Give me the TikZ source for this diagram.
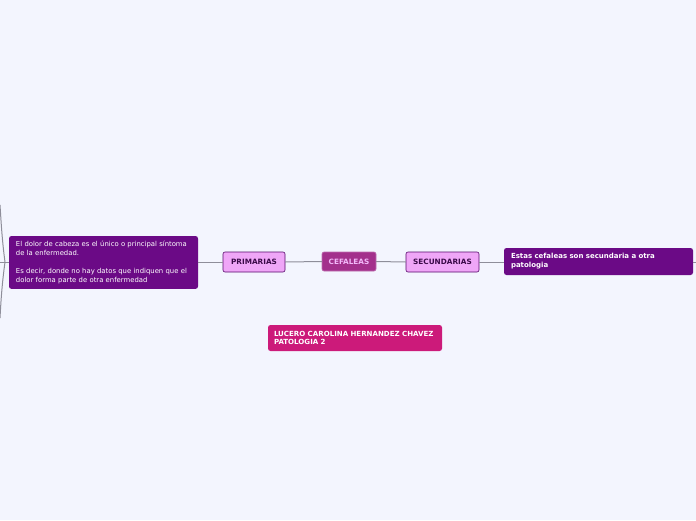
\documentclass[tikz,border=0pt]{standalone}
\usepackage{fontspec}
\setmainfont{DejaVu Sans}
\definecolor{bgc}{HTML}{F3F5FE}
\definecolor{darkp}{HTML}{6B0A86}
\definecolor{lightp}{HTML}{EFA6F7}
\definecolor{midp}{HTML}{A3308C}
\definecolor{pinkc}{HTML}{CC1A7A}
\definecolor{linec}{HTML}{8E8E9A}
\definecolor{txtp}{HTML}{3A0A48}
\tikzset{
  every node/.style={inner sep=0pt, outer sep=0pt},
  conn/.style={draw=linec, line width=1pt},
  subbox/.style={draw=darkp!80!black, line width=0.6pt, fill=lightp, rounded corners=2pt,
    text=txtp, font=\fontsize{7.3}{8}\selectfont\bfseries, anchor=center},
  mainbox/.style={draw=midp!70!white, line width=0.6pt, fill=midp, rounded corners=2pt,
    text=lightp!80!white, font=\fontsize{7.3}{8}\selectfont\bfseries, anchor=center},
  darkbox/.style={fill=darkp, rounded corners=2.5pt, text=white, align=left,
    anchor=north west, inner xsep=7pt, inner ysep=5pt},
}
\begin{document}
\begin{tikzpicture}[x=1pt,y=-1pt]
\fill[bgc] (0,0) rectangle (696,520);
\useasboundingbox (0,0) rectangle (696,520);
% nodes
\node[mainbox, minimum width=54pt, minimum height=19pt] (cef) at (349,261.5) {CEFALEAS};
\node[subbox, minimum width=62pt, minimum height=20pt] (pri) at (254,262) {PRIMARIAS};
\node[subbox, minimum width=73pt, minimum height=20pt] (sec) at (442.5,262) {SECUNDARIAS};
\node[darkbox, minimum width=189pt, minimum height=51pt, text width=175pt,
  font=\fontsize{6.85}{9}\selectfont] (left) at (9,236)
  {El dolor de cabeza es el único o principal síntoma\\de la enfermedad.\\[9pt]Es decir, donde no hay datos que indiquen que el\\dolor forma parte de otra enfermedad};
\node[darkbox, minimum width=189pt, minimum height=27pt, text width=175pt,
  font=\fontsize{7}{9}\selectfont\bfseries] (right) at (504,248)
  {Estas cefaleas son secundaria a otra\\patologia};
\node[fill=pinkc, rounded corners=2.5pt, text=white, align=left, anchor=north west,
  inner xsep=6pt, inner ysep=5.5pt, minimum width=174pt, minimum height=26pt, text width=162pt,
  font=\fontsize{7.05}{8.5}\selectfont\bfseries] (title) at (268,325)
  {LUCERO CAROLINA HERNANDEZ CHAVEZ\\PATOLOGIA 2};
% coordinates for free ends
\coordinate (redge) at (696,262);
\coordinate (ledge) at (0,262);
\coordinate (lup) at (0,205);
\coordinate (ldown) at (0,318);
\coordinate (lj) at (5,262);
% connectors
\draw[conn] (cef.west) -- (pri.east);
\draw[conn] (pri.west) -- (left.east|-pri.west);
\draw[conn] (cef.east) -- (sec.west);
\draw[conn] (sec.east) -- (right.west|-sec.east);
\draw[conn] (right.east|-sec.east) -- (redge);
\draw[conn] (left.west|-pri.west) -- (ledge);
\draw[conn] (lj) .. controls (2,240) and (1,220) .. (lup);
\draw[conn] (lj) .. controls (2,284) and (1,300) .. (ldown);
\end{tikzpicture}
\end{document}
